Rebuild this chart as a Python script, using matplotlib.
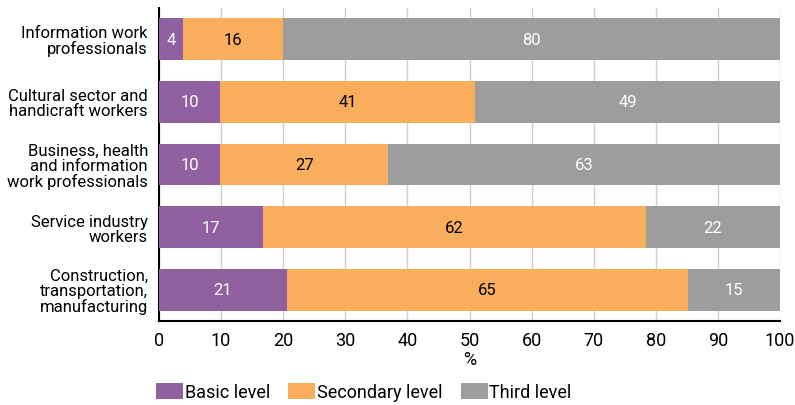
import matplotlib.pyplot as plt

plt.rcParams["font.family"] = ["Roboto", "DejaVu Sans"]

categories = [
    "Information work\nprofessionals",
    "Cultural sector and\nhandicraft workers",
    "Business, health\nand information\nwork professionals",
    "Service industry\nworkers",
    "Construction,\ntransportation,\nmanufacturing",
]
# shares in % (labels are rounded)
basic = [3.9, 9.9, 9.9, 16.8, 20.6]
secondary = [16.0, 41.0, 27.0, 61.6, 64.6]
third = [80.1, 49.1, 63.1, 21.6, 14.8]

colors = ["#9060a1", "#f8ae5c", "#9d9d9b"]
text_colors = ["white", "black", "white"]
series = [("Basic level", basic), ("Secondary level", secondary), ("Third level", third)]

fig = plt.figure(figsize=(7.95, 4.06), dpi=100)
ax = fig.add_axes([159 / 795, 1 - 322 / 406, 621 / 795, 313 / 406])

y = list(range(len(categories)))
left = [0] * len(categories)
for (name, vals), c, tc in zip(series, colors, text_colors):
    ax.barh(y, vals, left=left, height=0.67, color=c, label=name, zorder=3)
    for yi, l, v in zip(y, left, vals):
        ax.text(l + v / 2, yi, f"{v:.0f}", ha="center", va="center", color=tc, fontsize=12, zorder=4)
    left = [a + b for a, b in zip(left, vals)]

ax.set_xlim(0, 100)
ax.set_ylim(4.5, -0.5)
ax.set_yticks(y)
ax.set_yticklabels(categories, fontsize=12, linespacing=1.0)
ax.set_xticks(range(0, 101, 10))
ax.tick_params(axis="x", labelsize=13, length=0, pad=7)
ax.tick_params(axis="y", length=0, pad=8)
ax.set_xlabel("%", fontsize=13, labelpad=1)
ax.grid(axis="x", color="#d0d0d0", linewidth=1, zorder=0)
for s in ["top", "right"]:
    ax.spines[s].set_visible(False)
ax.spines["left"].set_linewidth(1.5)
ax.spines["bottom"].set_linewidth(1.5)

ax.legend(loc="center left", bbox_to_anchor=(-0.005, -0.227), ncol=3, frameon=False,
          fontsize=13, handlelength=1.5, handleheight=1.0, handletextpad=0.1,
          columnspacing=1.0, borderaxespad=0, borderpad=0)

fig.savefig("out.png", dpi=100)
